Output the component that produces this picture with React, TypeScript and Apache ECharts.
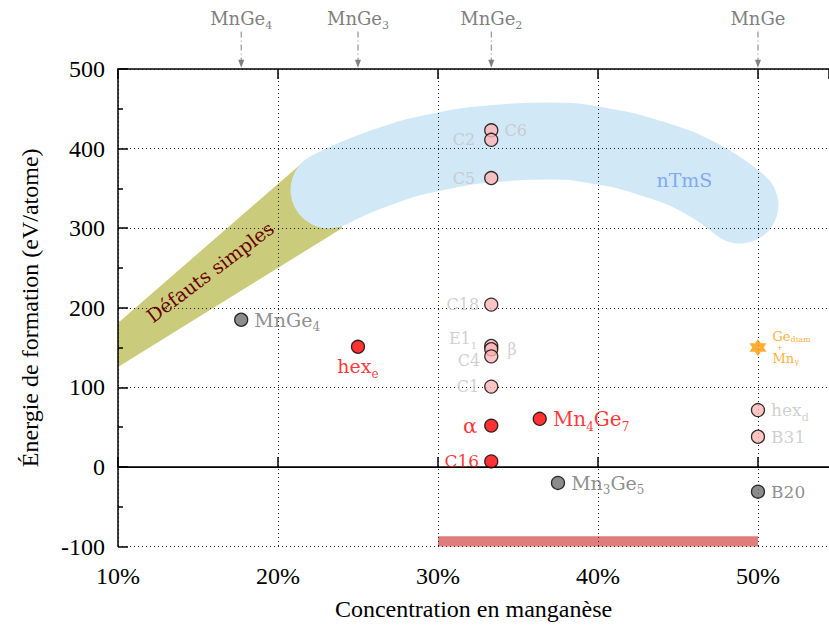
import React, { useEffect, useRef } from 'react';
import * as echarts from 'echarts';

const AXIS_FONT = '"Liberation Serif", "Times New Roman", serif';
const LABEL_FONT = '"DejaVu Serif", serif';

const X_MIN = 10;
const X_MAX = 54.44;
const Y_MIN = -100;
const Y_MAX = 500;

// Structures (pink = metastable, light grey labels)
const pinkNames = ['C6', 'C2', 'C5', 'C18', 'E1_{1}', 'β', 'C4', 'C1', 'hex_{d}', 'B31'];
const pinkX = [33.33, 33.33, 33.33, 33.33, 33.33, 33.33, 33.33, 33.33, 50, 50];
const pinkY = [423, 411, 363, 204, 152, 148, 139, 101, 71.5, 38];

// Red structures
const redNames = ['hex_{e}', 'α', 'C16', 'Mn_{4}Ge_{7}'];
const redX = [25, 33.33, 33.33, 36.36];
const redY = [151, 52, 7, 60.5];

// Grey structures
const grayNames = ['MnGe_{4}', 'Mn_{3}Ge_{5}', 'B20'];
const grayX = [17.7, 37.5, 50];
const grayY = [185, -20, -31];

// Phase separation (star)
const starX = [50];
const starY = [150];

// Compounds on top axis
const compoundNames = ['MnGe_{4}', 'MnGe_{3}', 'MnGe_{2}', 'MnGe'];
const compoundX = [17.7, 25, 33.33, 50];

// nTmS band (centre line)
const bandX = [23.19, 26.375, 29.94, 33.875, 37.0, 40.125, 43.25, 46.375, 48.875];
const bandY = [348, 375.6, 395.7, 407, 409.5, 403.3, 388.2, 363.1, 329.1];

// Défauts simples band (polygon)
const defautsX = [10, 21.56, 23.56, 24.0, 10];
const defautsY = [181, 383, 354, 300, 125.6];

// Experimental range (bar at the bottom)
const phaseRangeX = [30, 50];
const phaseRangeY = [-100, -87];

// Annotation text anchors
const annotNames = ['Défauts simples', 'nTmS'];
const annotX = [15.75, 45.4];
const annotY = [245, 361];

// ---- styling / layout (not data) ----
const labelLayout: Record<string, any> = {
  'C6': { position: 'right', distance: 6 },
  'C2': { position: 'left', distance: 9 },
  'C5': { position: 'left', distance: 9 },
  'C18': { position: 'left', distance: 5 },
  'E1_{1}': { position: 'left', distance: 7, offset: [0, -8] },
  'β': { position: 'right', distance: 9 },
  'C4': { position: 'left', distance: 4, offset: [0, 4] },
  'C1': { position: 'left', distance: 5 },
  'hex_{d}': { position: 'right', distance: 6 },
  'B31': { position: 'right', distance: 6 },
  'hex_{e}': { position: 'bottom', distance: -1 },
  'α': { position: 'left', distance: 7 },
  'C16': { position: 'left', distance: 5 },
  'Mn_{4}Ge_{7}': { position: 'right', distance: 6 },
  'MnGe_{4}': { position: 'right', distance: 6 },
  'Mn_{3}Ge_{5}': { position: 'right', distance: 6 },
  'B20': { position: 'right', distance: 6 },
};
const labelSize: Record<string, number> = {
  'hex_{d}': 17, 'B31': 17, 'hex_{e}': 19, 'α': 21, 'C16': 17,
  'Mn_{4}Ge_{7}': 20, 'MnGe_{4}': 19, 'Mn_{3}Ge_{5}': 19, 'B20': 17,
};

const LIGHT = '#c4c4c4';
const GREY = '#707070';
const RED = '#ff0000';

function toRich(label: string) {
  return label
    .split(/(_\{[^}]*\})/)
    .filter(Boolean)
    .map((p) => (p.startsWith('_{') ? `{s|${p.slice(2, -1)}}` : `{n|${p}}`))
    .join('');
}

function makeRich(color: string, size: number) {
  const sub = Math.round(size * 0.62);
  return {
    n: { color, fontSize: size, fontFamily: LABEL_FONT, lineHeight: size + 8 },
    s: { color, fontSize: sub, fontFamily: LABEL_FONT, lineHeight: sub, verticalAlign: 'bottom' },
  };
}

function buildItems(names: string[], xs: number[], ys: number[], color: string, defSize: number) {
  return names.map((name, i) => {
    const lay = labelLayout[name] || { position: 'right', distance: 6 };
    const size = labelSize[name] || defSize;
    return {
      name,
      value: [xs[i], ys[i]],
      label: {
        show: true,
        position: lay.position,
        distance: lay.distance,
        offset: lay.offset || [0, 0],
        formatter: () => toRich(name),
        rich: makeRich(color, size),
      },
    };
  });
}

const STAR = 'path://M0,-10 L2.887,-5 L8.66,-5 L5.774,0 L8.66,5 L2.887,5 L0,10 L-2.887,5 L-8.66,5 L-5.774,0 L-8.66,-5 L-2.887,-5 Z';

function buildOption(): any {
  const pointBase = {
    type: 'scatter',
    symbol: 'circle',
    symbolSize: 13,
    z: 10,
  };
  return {
    animation: false,
    grid: { left: 118, top: 69, right: 0, bottom: 83.4, containLabel: false },
    xAxis: [
      {
        type: 'value',
        min: X_MIN,
        max: X_MAX,
        interval: 10,
        position: 'bottom',
        z: 3,
        name: 'Concentration en manganèse',
        nameLocation: 'middle',
        nameGap: 50,
        nameTextStyle: { fontFamily: AXIS_FONT, fontSize: 24, color: '#000' },
        axisLine: { show: true, lineStyle: { color: '#000', width: 1.5 } },
        axisTick: { show: true, inside: true, length: 10, lineStyle: { color: '#000', width: 1.5 } },
        axisLabel: {
          formatter: (v: number) => (Math.abs(v % 10) < 1e-6 ? `${v}%` : ''),
          fontFamily: AXIS_FONT,
          fontSize: 24,
          color: '#000',
          margin: 17,
          showMaxLabel: false,
        },
        splitLine: { show: true, lineStyle: { type: [1, 3], color: '#222', width: 1 } },
      },
      {
        type: 'value',
        min: X_MIN,
        max: X_MAX,
        interval: 10,
        position: 'top',
        z: 3,
        axisLine: { show: true, lineStyle: { color: '#000', width: 1.5 } },
        axisTick: { show: true, inside: true, length: 10, lineStyle: { color: '#000', width: 1.5 } },
        axisLabel: { show: false },
        splitLine: { show: false },
      },
    ],
    yAxis: {
      type: 'value',
      min: Y_MIN,
      max: Y_MAX,
      interval: 100,
      z: 3,
      name: 'Énergie de formation (eV/atome)',
      nameLocation: 'middle',
      nameGap: 76,
      nameTextStyle: { fontFamily: AXIS_FONT, fontSize: 24, color: '#000' },
      axisLine: { show: true, lineStyle: { color: '#000', width: 1.5 } },
      axisTick: { show: true, inside: true, length: 10, lineStyle: { color: '#000', width: 1.5 } },
      minorTick: { show: true, splitNumber: 2, length: 5, lineStyle: { color: '#000', width: 1.5 } },
      axisLabel: { fontFamily: AXIS_FONT, fontSize: 24, color: '#000', margin: 13 },
      splitLine: { show: true, lineStyle: { type: [1, 3], color: '#222', width: 1 } },
    },
    series: [
      {
        type: 'custom',
        name: 'defauts',
        z: 1,
        silent: true,
        clip: true,
        data: [[0]],
        renderItem: (_p: any, api: any) => {
          const pts = defautsX.map((x, i) => api.coord([x, defautsY[i]]));
          return { type: 'polygon', shape: { points: pts }, style: { fill: '#cbcc7b' } };
        },
      },
      {
        type: 'line',
        name: 'nTmS',
        z: 2,
        silent: true,
        smooth: 0.5,
        symbol: 'none',
        data: bandX.map((x, i) => [x, bandY[i]]),
        lineStyle: { width: 77, color: '#d1e8f7', cap: 'round', join: 'round' },
      },
      {
        type: 'custom',
        name: 'range',
        z: 2,
        silent: true,
        data: [[phaseRangeX[0], phaseRangeY[0], phaseRangeX[1], phaseRangeY[1]]],
        renderItem: (_p: any, api: any) => {
          const a = api.coord([api.value(0), api.value(1)]);
          const b = api.coord([api.value(2), api.value(3)]);
          return {
            type: 'rect',
            shape: { x: a[0], y: b[1], width: b[0] - a[0], height: a[1] - b[1] },
            style: { fill: '#e07c7c' },
          };
        },
      },
      {
        type: 'custom',
        name: 'annotations',
        z: 4,
        silent: true,
        data: annotNames.map((n, i) => [annotX[i], annotY[i], i]),
        renderItem: (_p: any, api: any) => {
          const i = api.value(2);
          const c = api.coord([api.value(0), api.value(1)]);
          const isDef = i === 0;
          return {
            type: 'text',
            x: c[0],
            y: c[1],
            rotation: isDef ? (37 * Math.PI) / 180 : 0,
            style: {
              text: annotNames[i],
              align: 'center',
              verticalAlign: 'middle',
              fill: isDef ? '#6a0000' : '#82a9f2',
              fontSize: 19,
              fontFamily: LABEL_FONT,
            },
          };
        },
      },
      {
        type: 'custom',
        name: 'compounds',
        z: 4,
        silent: true,
        clip: false,
        data: compoundNames.map((n, i) => [compoundX[i], i]),
        renderItem: (_p: any, api: any) => {
          const x = api.value(0);
          const i = api.value(1);
          const t = api.coord([x, 564]);
          const a = api.coord([x, 547]);
          const b = api.coord([x, 501.5]);
          return {
            type: 'group',
            children: [
              {
                type: 'text',
                x: t[0],
                y: t[1],
                style: {
                  text: toRich(compoundNames[i]),
                  align: 'center',
                  verticalAlign: 'middle',
                  rich: {
                    n: { fill: '#7f7f7f', fontSize: 18, fontFamily: LABEL_FONT, lineHeight: 26 },
                    s: { fill: '#7f7f7f', fontSize: 11, fontFamily: LABEL_FONT, lineHeight: 11, verticalAlign: 'bottom' },
                  },
                },
              },
              {
                type: 'line',
                shape: { x1: a[0], y1: a[1], x2: b[0], y2: b[1] - 6 },
                style: { stroke: '#7f7f7f', lineWidth: 1, lineDash: [6, 3, 1, 3] },
              },
              {
                type: 'polygon',
                shape: { points: [[b[0] - 3, b[1] - 8], [b[0] + 3, b[1] - 8], [b[0], b[1]]] },
                style: { fill: '#7f7f7f' },
              },
            ],
          };
        },
      },
      {
        ...pointBase,
        name: 'pink',
        itemStyle: { color: '#ffb5b5', borderColor: '#000', borderWidth: 1.3 },
        data: buildItems(pinkNames, pinkX, pinkY, LIGHT, 16),
      },
      {
        ...pointBase,
        name: 'red',
        itemStyle: { color: RED, borderColor: '#000', borderWidth: 1.3 },
        data: buildItems(redNames, redX, redY, RED, 19),
      },
      {
        ...pointBase,
        name: 'gray',
        itemStyle: { color: '#6f6f6f', borderColor: '#000', borderWidth: 1.3 },
        data: buildItems(grayNames, grayX, grayY, GREY, 19),
        markLine: {
          silent: true,
          symbol: 'none',
          label: { show: false },
          lineStyle: { color: '#000', width: 1, type: 'solid' },
          data: [{ yAxis: 0 }],
        },
      },
      {
        type: 'scatter',
        name: 'star',
        z: 10,
        symbol: STAR,
        symbolSize: 17,
        itemStyle: { color: '#ff9900' },
        data: starX.map((x, i) => ({
          value: [x, starY[i]],
          label: {
            show: true,
            position: 'right',
            distance: 6,
            formatter: () => '{g|Ge}{d|diam}\n{p|+}\n{g|Mn}{d|γ}',
            rich: {
              g: { color: '#ff9900', fontSize: 13, fontFamily: LABEL_FONT, lineHeight: 14 },
              d: { color: '#ff9900', fontSize: 8, fontFamily: LABEL_FONT, lineHeight: 8, verticalAlign: 'bottom' },
              p: { color: '#ff9900', fontSize: 8, fontFamily: LABEL_FONT, lineHeight: 8, padding: [0, 0, 0, 4] },
            },
          },
        })),
      },
    ],
  };
}

export default function App() {
  const ref = useRef<HTMLDivElement>(null);
  useEffect(() => {
    if (!ref.current) return;
    const chart = echarts.init(ref.current, null, { renderer: 'svg' });
    chart.setOption(buildOption());
    return () => chart.dispose();
  }, []);
  return (
    <div
      ref={ref}
      style={{ position: 'fixed', left: 0, top: 0, width: 829, height: 630, background: '#fff' }}
    />
  );
}
